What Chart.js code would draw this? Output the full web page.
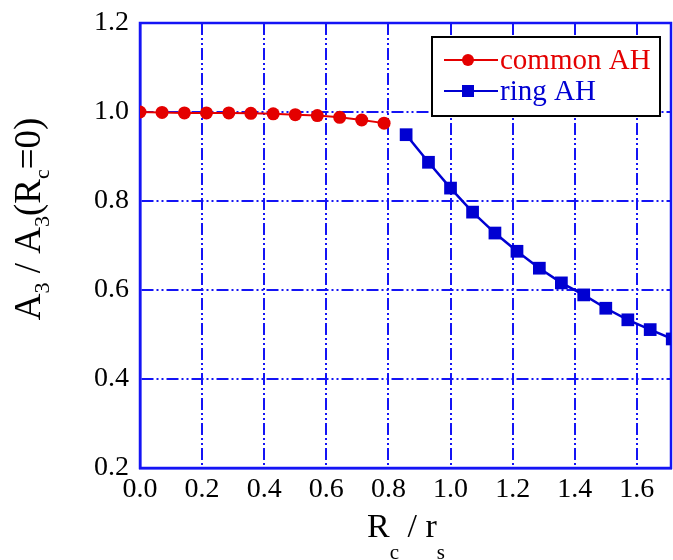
<!DOCTYPE html>
<html>
<head>
<meta charset="utf-8">
<script src="https://cdn.jsdelivr.net/npm/chart.js@4.4.0/dist/chart.umd.min.js"></script>
<style>
  html, body { margin: 0; padding: 0; background: #fff; }
</style>
</head>
<body>
<canvas id="chart" width="673" height="560"></canvas>
<script>
// data
const commonX = [0, 0.071, 0.143, 0.214, 0.286, 0.357, 0.429, 0.5, 0.571, 0.643, 0.714, 0.786];
const commonY = [1.0, 0.999, 0.998, 0.998, 0.998, 0.997, 0.996, 0.994, 0.992, 0.988, 0.982, 0.975];
const ringX = [0.857, 0.929, 1.0, 1.071, 1.143, 1.214, 1.286, 1.357, 1.429, 1.5, 1.571, 1.643, 1.714];
const ringY = [0.949, 0.887, 0.829, 0.775, 0.728, 0.687, 0.649, 0.616, 0.589, 0.559, 0.533, 0.511, 0.49];
const xTicks = [0, 0.2, 0.4, 0.6, 0.8, 1.0, 1.2, 1.4, 1.6];
const yTicks = [0.2, 0.4, 0.6, 0.8, 1.0, 1.2];
const seriesNames = ["common AH", "ring AH"];

const RED = "rgb(228, 0, 0)";
const BLUE = "rgb(0, 0, 210)";
const GRID = "rgb(20, 20, 245)";
const SERIF = '"Liberation Serif", "DejaVu Serif", serif';

const toPoints = (xs, ys) => xs.map((x, i) => ({ x: x, y: ys[i] }));

// text with subscripts, centered at the origin
function drawRich(ctx, parts, size, subSize, drop) {
  let total = 0;
  parts.forEach((p) => {
    ctx.font = (p.sub ? subSize : size) + "px " + SERIF;
    p.w = ctx.measureText(p.t).width;
    total += p.w;
  });
  let x = -total / 2;
  parts.forEach((p) => {
    ctx.font = (p.sub ? subSize : size) + "px " + SERIF;
    ctx.fillText(p.t, x, p.sub ? drop : 0);
    x += p.w;
  });
}

// solid frame round the plot, under the marks
const frame = {
  id: "frame",
  beforeDatasetsDraw(chart) {
    const a = chart.chartArea;
    const ctx = chart.ctx;
    ctx.save();
    ctx.strokeStyle = GRID;
    ctx.lineWidth = 2.5;
    ctx.strokeRect(a.left, a.top, a.right - a.left, a.bottom - a.top);
    ctx.restore();
  },
};

const titles = {
  id: "titles",
  afterDraw(chart) {
    const ctx = chart.ctx;
    ctx.save();
    ctx.fillStyle = "#000";
    ctx.textBaseline = "middle";
    ctx.textAlign = "left";

    ctx.save();
    ctx.translate(30, 219);
    ctx.rotate(-Math.PI / 2);
    drawRich(ctx, [
      { t: "A" }, { t: "3", sub: true }, { t: " / A" }, { t: "3", sub: true },
      { t: "(R" }, { t: "c", sub: true }, { t: "=0)" },
    ], 37, 22, 13);
    ctx.restore();

    ctx.save();
    ctx.translate(406, 528);
    drawRich(ctx, [
      { t: "R" }, { t: "c", sub: true }, { t: " / r" }, { t: "s", sub: true },
    ], 34, 21, 25);
    ctx.restore();

    // legend box inside the plot
    const bx = 432, by = 37, bw = 228, bh = 79;
    ctx.fillStyle = "#fff";
    ctx.fillRect(bx, by, bw, bh);
    ctx.strokeStyle = "#000";
    ctx.lineWidth = 2;
    ctx.strokeRect(bx, by, bw, bh);

    const rows = [
      { name: seriesNames[0], color: RED, marker: "circle", y: 60 },
      { name: seriesNames[1], color: BLUE, marker: "rect", y: 91 },
    ];
    rows.forEach((r) => {
      ctx.strokeStyle = r.color;
      ctx.lineWidth = 2;
      ctx.beginPath();
      ctx.moveTo(444, r.y);
      ctx.lineTo(498, r.y);
      ctx.stroke();
      ctx.fillStyle = r.color;
      if (r.marker === "circle") {
        ctx.beginPath();
        ctx.arc(468, r.y, 6, 0, Math.PI * 2);
        ctx.fill();
      } else {
        ctx.fillRect(462, r.y - 6, 12, 12);
      }
      ctx.font = "29px " + SERIF;
      ctx.fillText(r.name, 500, r.y + 1);
    });
    ctx.restore();
  },
};

new Chart(document.getElementById("chart"), {
  type: "line",
  data: {
    datasets: [
      {
        label: seriesNames[0],
        data: toPoints(commonX, commonY),
        borderColor: RED,
        backgroundColor: RED,
        borderWidth: 2,
        pointStyle: "circle",
        pointRadius: 6.5,
        pointBorderWidth: 0,
      },
      {
        label: seriesNames[1],
        data: toPoints(ringX, ringY),
        borderColor: BLUE,
        backgroundColor: BLUE,
        borderWidth: 2.5,
        pointStyle: "rect",
        pointRadius: 9,
        pointBorderWidth: 0,
      },
    ],
  },
  options: {
    responsive: false,
    animation: false,
    layout: { autoPadding: false, padding: { top: 23, right: 2, left: 0, bottom: 0 } },
    plugins: {
      legend: { display: false },
      tooltip: { enabled: false },
    },
    scales: {
      x: {
        type: "linear",
        min: 0,
        max: 1.71,
        afterBuildTicks: (axis) => { axis.ticks = xTicks.map((v) => ({ value: v })); },
        afterFit: (axis) => {
          axis.height = 92;
          axis.paddingLeft = 0;
          axis.paddingRight = 0;
        },
        ticks: {
          color: "#000",
          font: { family: SERIF, size: 28 },
          padding: 5,
          maxRotation: 0,
          callback: (v) => v.toFixed(1),
        },
        grid: { color: GRID, lineWidth: 2, drawTicks: false },
        border: { color: GRID, width: 2.5, dash: [12, 3, 2, 3, 2, 3] },
      },
      y: {
        type: "linear",
        min: 0.2,
        max: 1.2,
        afterBuildTicks: (axis) => { axis.ticks = yTicks.map((v) => ({ value: v })); },
        afterFit: (axis) => {
          axis.width = 140;
          axis.paddingTop = 0;
          axis.paddingBottom = 0;
        },
        ticks: {
          color: "#000",
          font: { family: SERIF, size: 28 },
          padding: 11,
          callback: (v) => v.toFixed(1),
        },
        grid: { color: GRID, lineWidth: 2, drawTicks: false },
        border: { color: GRID, width: 2.5, dash: [12, 3, 2, 3, 2, 3] },
      },
    },
  },
  plugins: [frame, titles],
});
</script>
</body>
</html>
